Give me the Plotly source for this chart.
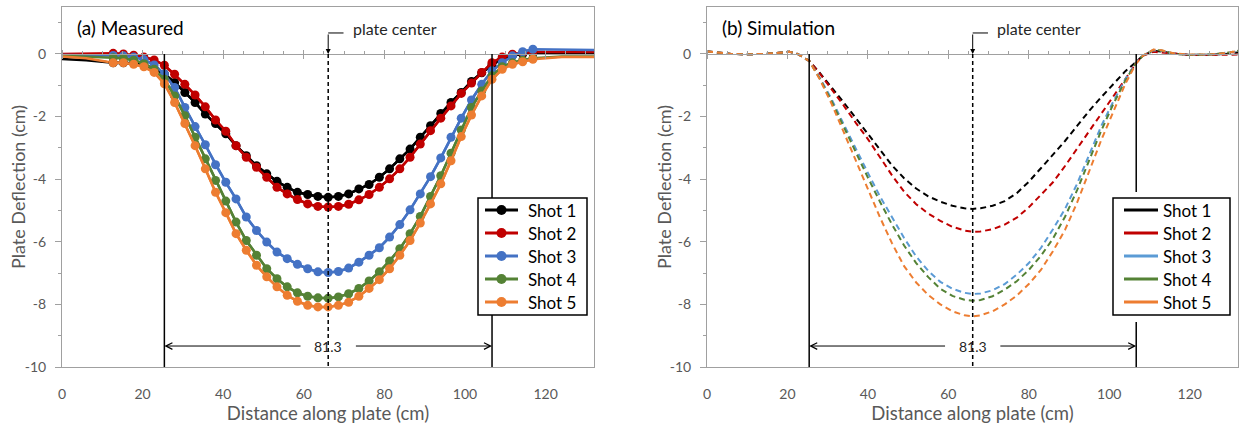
import plotly.graph_objects as go

# ---------------- data ----------------
SHOTS = ["Shot 1", "Shot 2", "Shot 3", "Shot 4", "Shot 5"]
MEAS_COLORS = ["#000000", "#C00000", "#4472C4", "#548235", "#ED7D31"]
SIM_COLORS = ["#000000", "#C00000", "#5B9BD5", "#548235", "#ED7D31"]

# measured stations (cm)
MEAS_X = [12.7, 15.24, 17.78, 20.32, 22.86, 25.4, 27.94, 30.48, 33.02, 35.56,
          38.1, 40.64, 43.18, 45.72, 48.26, 50.8, 53.34, 55.88, 58.42, 60.96,
          63.5, 66.04, 68.58, 71.12, 73.66, 76.2, 78.74, 81.28, 83.82, 86.36,
          88.9, 91.44, 93.98, 96.52, 99.06, 101.6, 104.14, 106.68, 109.22, 111.76,
          114.3, 116.84]

MEAS_SHOT1 = [-0.28, -0.28, -0.3, -0.35, -0.48, -0.64, -0.91, -1.23, -1.55, -1.92,
              -2.22, -2.55, -2.93, -3.25, -3.57, -3.83, -4.07, -4.26, -4.42, -4.49,
              -4.55, -4.58, -4.55, -4.47, -4.31, -4.17, -3.94, -3.67, -3.35, -3.04,
              -2.66, -2.29, -1.9, -1.55, -1.23, -0.88, -0.6, -0.35, -0.15, -0.05,
              0.0, 0.02]
MEAS_SHOT2 = [0.02, 0.0, -0.04, -0.1, -0.19, -0.36, -0.65, -0.97, -1.31, -1.69,
              -2.11, -2.47, -2.93, -3.3, -3.62, -3.94, -4.26, -4.47, -4.65, -4.79,
              -4.87, -4.89, -4.87, -4.8, -4.66, -4.49, -4.26, -3.99, -3.67, -3.3,
              -2.88, -2.45, -2.05, -1.66, -1.26, -0.93, -0.59, -0.28, -0.1, -0.01,
              0.04, 0.06]
MEAS_SHOT3 = [-0.05, -0.06, -0.1, -0.18, -0.35, -0.64, -1.07, -1.71, -2.32, -2.9,
              -3.54, -4.1, -4.63, -5.21, -5.64, -6.01, -6.33, -6.54, -6.72, -6.86,
              -6.96, -6.98, -6.95, -6.84, -6.65, -6.43, -6.19, -5.85, -5.45, -4.98,
              -4.47, -3.92, -3.32, -2.66, -2.05, -1.47, -0.97, -0.54, -0.28, -0.06,
              0.07, 0.15]
MEAS_SHOT4 = [-0.12, -0.14, -0.2, -0.31, -0.49, -0.81, -1.34, -1.97, -2.66, -3.35,
              -4.04, -4.7, -5.37, -5.96, -6.43, -6.86, -7.18, -7.44, -7.63, -7.74,
              -7.79, -7.8, -7.76, -7.66, -7.49, -7.25, -6.96, -6.61, -6.22, -5.74,
              -5.19, -4.55, -3.89, -3.17, -2.43, -1.71, -1.18, -0.7, -0.41, -0.28,
              -0.2, -0.14]
MEAS_SHOT5 = [-0.28, -0.28, -0.33, -0.41, -0.59, -0.95, -1.55, -2.22, -2.93, -3.67,
              -4.42, -5.07, -5.74, -6.27, -6.75, -7.12, -7.44, -7.71, -7.9, -8.03,
              -8.08, -8.08, -8.03, -7.93, -7.74, -7.49, -7.21, -6.86, -6.43, -5.96,
              -5.4, -4.79, -4.15, -3.41, -2.64, -1.95, -1.34, -0.81, -0.49, -0.33,
              -0.25, -0.17]
MEAS = [MEAS_SHOT1, MEAS_SHOT2, MEAS_SHOT3, MEAS_SHOT4, MEAS_SHOT5]

# unmarked line continuation to the plate ends
EDGE_LEFT_X = [0, 6]
EDGE_RIGHT_X = [124, 132]
EDGE_LEFT = [[-0.16, -0.2], [0.0, 0.01], [-0.03, -0.03], [-0.06, -0.08], [-0.08, -0.14]]
EDGE_RIGHT = [[0.03, 0.03], [0.06, 0.06], [0.13, 0.13], [-0.08, -0.08], [-0.1, -0.1]]

# simulation
SIM_X = [0, 3, 6, 10, 14, 18, 20.5, 22.5, 25.4, 28, 31, 34, 37, 40, 43, 46, 49, 52,
         55, 58, 61, 64, 66, 68, 71, 74, 77, 80, 83, 86, 89, 92, 95, 98, 101, 104,
         106.7, 108.5, 111, 113, 116, 120, 125, 129, 132]
SIM_SHOT1 = [0.08, 0.03, 0.0, -0.01, 0.0, 0.04, 0.07, 0.0, -0.22,
             -0.6, -1.07, -1.55, -2.05, -2.55, -3.07, -3.56, -3.97, -4.3, -4.55, -4.72, -4.85, -4.93,
             -4.95, -4.93, -4.85, -4.7, -4.45, -4.08, -3.65, -3.22, -2.78, -2.3, -1.82, -1.38, -0.95, -0.55,
             -0.25, -0.04, 0.1, 0.08, 0.01, -0.03, -0.02, 0.0, 0.05]
SIM_SHOT2 = [0.08, 0.03, 0.0, -0.01, 0.0, 0.04, 0.07, 0.0, -0.22,
             -0.62, -1.12, -1.65, -2.2, -2.72, -3.3, -3.88, -4.4, -4.8, -5.1, -5.33, -5.52, -5.64,
             -5.68, -5.67, -5.6, -5.45, -5.23, -4.9, -4.5, -4.1, -3.58, -3.03, -2.48, -1.92, -1.37, -0.8,
             -0.28, -0.05, 0.07, 0.05, 0.0, -0.03, -0.03, -0.02, -0.02]
SIM_SHOT3 = [0.08, 0.03, 0.0, -0.01, 0.0, 0.04, 0.07, 0.0, -0.22,
             -0.75, -1.45, -2.25, -3.05, -3.8, -4.55, -5.22, -5.88, -6.47, -6.93, -7.28, -7.5, -7.63,
             -7.67, -7.65, -7.55, -7.35, -7.05, -6.68, -6.2, -5.6, -4.95, -4.15, -3.2, -2.3, -1.52, -0.8,
             -0.28, -0.04, 0.12, 0.1, 0.01, -0.03, -0.02, 0.03, 0.08]
SIM_SHOT4 = [0.08, 0.03, 0.0, -0.01, 0.0, 0.04, 0.07, 0.0, -0.22,
             -0.78, -1.52, -2.33, -3.15, -3.95, -4.72, -5.45, -6.12, -6.68, -7.13, -7.5, -7.73, -7.85,
             -7.88, -7.86, -7.74, -7.53, -7.26, -6.9, -6.45, -5.9, -5.2, -4.35, -3.4, -2.45, -1.6, -0.85,
             -0.28, -0.04, 0.13, 0.11, 0.01, -0.03, -0.02, 0.03, 0.1]
SIM_SHOT5 = [0.08, 0.03, 0.0, -0.01, 0.0, 0.04, 0.07, 0.0, -0.22,
             -0.8, -1.6, -2.5, -3.4, -4.3, -5.22, -6.05, -6.78, -7.3, -7.7, -8.0, -8.22, -8.35,
             -8.38, -8.35, -8.22, -8.0, -7.72, -7.35, -6.9, -6.3, -5.62, -4.75, -3.75, -2.75, -1.85, -0.95,
             -0.3, -0.04, 0.14, 0.12, 0.02, -0.02, -0.02, 0.03, 0.1]
SIM = [SIM_SHOT1, SIM_SHOT2, SIM_SHOT3, SIM_SHOT4, SIM_SHOT5]

X_TICKS = [0, 20, 40, 60, 80, 100, 120]
Y_TICKS = [-10, -8, -6, -4, -2, 0]
X_RANGE = [0, 132]
Y_RANGE = [-10, 1.5]

PLATE_LEFT = 25.4
PLATE_WIDTH = 81.3
PLATE_RIGHT = PLATE_LEFT + PLATE_WIDTH
PLATE_CENTER = PLATE_LEFT + PLATE_WIDTH / 2
DIM_Y = -9.33
LABEL_Y = 0.67

PANEL_TITLES = ["(a) Measured", "(b) Simulation"]
X_TITLE = "Distance along plate (cm)"
Y_TITLE = "Plate Deflection (cm)"

# ---------------- layout geometry ----------------
W, H = 1241, 432
FONT = "Lato, 'Open Sans', sans-serif"
GRAY = "#595959"
AXCOL = "#A0A0A0"
X_DOMS = [[62 / W, 594 / W], [707 / W, 1238 / W]]
Y_DOM = [1 - 367 / H, 1 - 7 / H]
Y_TITLE_X = [18, 664]
ZERO_POS = Y_DOM[0] + (0 - Y_RANGE[0]) / (Y_RANGE[1] - Y_RANGE[0]) * (Y_DOM[1] - Y_DOM[0])

def px(x):
    return x / W

def py(y):
    return 1 - y / H

fig = go.Figure()

# measured
for i, name in enumerate(SHOTS):
    fx = EDGE_LEFT_X + MEAS_X + EDGE_RIGHT_X
    fy = EDGE_LEFT[i] + MEAS[i] + EDGE_RIGHT[i]
    fig.add_trace(go.Scatter(x=fx, y=fy, mode="lines", line=dict(color=MEAS_COLORS[i], width=2.5),
                             showlegend=False, hoverinfo="skip", xaxis="x", yaxis="y"))
for i, name in enumerate(SHOTS):
    fig.add_trace(go.Scatter(x=MEAS_X, y=MEAS[i], mode="lines+markers", name=name,
                             line=dict(color=MEAS_COLORS[i], width=2.5),
                             marker=dict(size=9, color=MEAS_COLORS[i]), showlegend=False,
                             xaxis="x", yaxis="y"))
# simulation
for i, name in enumerate(SHOTS):
    fig.add_trace(go.Scatter(x=SIM_X, y=SIM[i], mode="lines", name=name, showlegend=False,
                             line=dict(color=SIM_COLORS[i], width=2, dash="6px,4px"),
                             xaxis="x2", yaxis="y2"))
# dummy traces so the zero-line tick axes render
for ax, ya in [("x3", "y"), ("x4", "y"), ("x5", "y2"), ("x6", "y2")]:
    fig.add_trace(go.Scatter(x=[None], y=[None], xaxis=ax, yaxis=ya, showlegend=False, hoverinfo="skip"))

common_x = dict(range=X_RANGE, showgrid=False, zeroline=False, showline=True, mirror=True,
                linecolor=AXCOL, linewidth=1, ticks="", tickvals=X_TICKS, automargin=False,
                ticktext=[str(v) for v in X_TICKS], ticklabelstandoff=14,
                tickfont=dict(family=FONT, size=14, color=GRAY),
                title=dict(text=X_TITLE, font=dict(family=FONT, size=18.5, color=GRAY), standoff=4))
common_y = dict(range=Y_RANGE, showgrid=False, zeroline=False, showline=True, mirror=True,
                linecolor=AXCOL, linewidth=1, ticks="outside", ticklen=6, tickcolor=AXCOL,
                tickvals=Y_TICKS, ticktext=[str(v) for v in Y_TICKS], ticklabelstandoff=6,
                minor=dict(dtick=1, tick0=0, ticks="outside", ticklen=3, tickcolor=AXCOL),
                tickfont=dict(family=FONT, size=14, color=GRAY), automargin=False)

def tick_axis(over, side, minor):
    d = dict(overlaying=over, anchor="free", position=ZERO_POS, range=X_RANGE, side=side,
             showgrid=False, zeroline=False, showticklabels=False, showline=(side == "top"),
             linecolor=AXCOL, linewidth=1, ticks="outside", ticklen=4, tickcolor=AXCOL,
             tick0=0, dtick=20, automargin=False)
    if minor:
        d["minor"] = dict(dtick=5, tick0=0, ticks="outside", ticklen=3, tickcolor=AXCOL)
    return d

fig.update_layout(
    width=W, height=H, margin=dict(l=0, r=0, t=0, b=0, autoexpand=False),
    paper_bgcolor="white", plot_bgcolor="white",
    font=dict(family=FONT), showlegend=False,
    xaxis=dict(domain=X_DOMS[0], anchor="y", **common_x),
    yaxis=dict(domain=Y_DOM, anchor="x", **common_y),
    xaxis2=dict(domain=X_DOMS[1], anchor="y2", **common_x),
    yaxis2=dict(domain=Y_DOM, anchor="x2", **common_y),
    xaxis3=tick_axis("x", "top", True),
    xaxis4=tick_axis("x", "bottom", False),
    xaxis5=tick_axis("x2", "top", True),
    xaxis6=tick_axis("x2", "bottom", False),
)

shapes = []
annotations = []
for k, (xr, yr) in enumerate([("x", "y"), ("x2", "y2")]):
    for xv in (PLATE_LEFT, PLATE_RIGHT):
        shapes.append(dict(type="line", xref=xr, yref=yr, x0=xv, x1=xv, y0=0, y1=Y_RANGE[0],
                           line=dict(color="black", width=1.5), layer="above"))
    shapes.append(dict(type="line", xref=xr, yref=yr, x0=PLATE_CENTER, x1=PLATE_CENTER, y0=0,
                       y1=Y_RANGE[0], line=dict(color="black", width=1.5, dash="4px,3px"), layer="above"))
    shapes.append(dict(type="line", xref=xr, yref=yr, x0=PLATE_CENTER, x1=PLATE_CENTER + 3.8,
                       y0=LABEL_Y, y1=LABEL_Y, line=dict(color="black", width=1), layer="above"))
    annotations.append(dict(xref=xr, yref=yr, axref=xr, ayref=yr, x=PLATE_CENTER, y=0,
                            ax=PLATE_CENTER, ay=LABEL_Y, text="", showarrow=True, arrowhead=2,
                            arrowsize=1, arrowwidth=1, arrowcolor="black", standoff=0))
    annotations.append(dict(xref=xr, yref=yr, x=PLATE_CENTER + 5.6, y=0.8, text="plate center",
                            showarrow=False, xanchor="left", yanchor="middle",
                            font=dict(family=FONT, size=16, color="#262626")))
    for head, tail in ((PLATE_LEFT, PLATE_CENTER - 6.5), (PLATE_RIGHT, PLATE_CENTER + 6.5)):
        annotations.append(dict(xref=xr, yref=yr, axref=xr, ayref=yr, x=head, y=DIM_Y, ax=tail,
                                ay=DIM_Y, text="", showarrow=True, arrowhead=5, arrowsize=1.3,
                                arrowwidth=1, arrowcolor="black", standoff=0))
    annotations.append(dict(xref=xr, yref=yr, x=PLATE_CENTER, y=DIM_Y, text=f"{PLATE_WIDTH}",
                            showarrow=False, xanchor="center", yanchor="middle",
                            font=dict(family=FONT, size=14, color="#262626")))
    annotations.append(dict(xref=f"{xr} domain", yref=f"{yr} domain", x=13 / 532, y=(367 - 27) / 360,
                            text=PANEL_TITLES[k], showarrow=False, xanchor="left", yanchor="middle",
                            font=dict(family=FONT, size=19, color="black")))
    # y-axis title
    annotations.append(dict(xref="paper", yref=f"{yr} domain", x=px(Y_TITLE_X[k]), y=0.5,
                            text=Y_TITLE, textangle=-90, showarrow=False, xanchor="center",
                            yanchor="middle", font=dict(family=FONT, size=18, color=GRAY)))

# legends (box, samples, labels) in pixel layout
LEGENDS = [
    dict(box=(478, 198, 587, 315), cover=(478, 198, 587, 315), line=(485, 518), text_x=526,
         colors=MEAS_COLORS, markers=True),
    dict(box=(1113, 198, 1230, 315), cover=(1107, 192, 1236, 322), line=(1124, 1158), text_x=1161,
         colors=SIM_COLORS, markers=False),
]
ROW0, ROW_STEP = 210, 23
for lg in LEGENDS:
    cx0, cy0, cx1, cy1 = lg["cover"]
    shapes.append(dict(type="rect", xref="paper", yref="paper", x0=px(cx0), x1=px(cx1), y0=py(cy1),
                       y1=py(cy0), fillcolor="white", line=dict(width=0), layer="above"))
    bx0, by0, bx1, by1 = lg["box"]
    shapes.append(dict(type="rect", xref="paper", yref="paper", x0=px(bx0), x1=px(bx1), y0=py(by1),
                       y1=py(by0), fillcolor="white", line=dict(color="black", width=1.5), layer="above"))
    l0, l1 = lg["line"]
    for i, name in enumerate(SHOTS):
        yy = py(ROW0 + i * ROW_STEP)
        shapes.append(dict(type="line", xref="paper", yref="paper", x0=px(l0), x1=px(l1), y0=yy, y1=yy,
                           line=dict(color=lg["colors"][i], width=3), layer="above"))
        if lg["markers"]:
            shapes.append(dict(type="circle", xref="paper", yref="paper", xsizemode="pixel",
                               ysizemode="pixel", xanchor=px((l0 + l1) / 2), yanchor=yy,
                               x0=-5, x1=5, y0=-5, y1=5, fillcolor=lg["colors"][i],
                               line=dict(color=lg["colors"][i], width=0), layer="above"))
        annotations.append(dict(xref="paper", yref="paper", x=px(lg["text_x"]), y=yy, text=name,
                                showarrow=False, xanchor="left", yanchor="middle",
                                font=dict(family=FONT, size=17, color="black")))

fig.update_layout(shapes=shapes, annotations=annotations)
fig.write_html("out.html", post_script="document.body.style.margin='0px';",
               config={"displayModeBar": False})
